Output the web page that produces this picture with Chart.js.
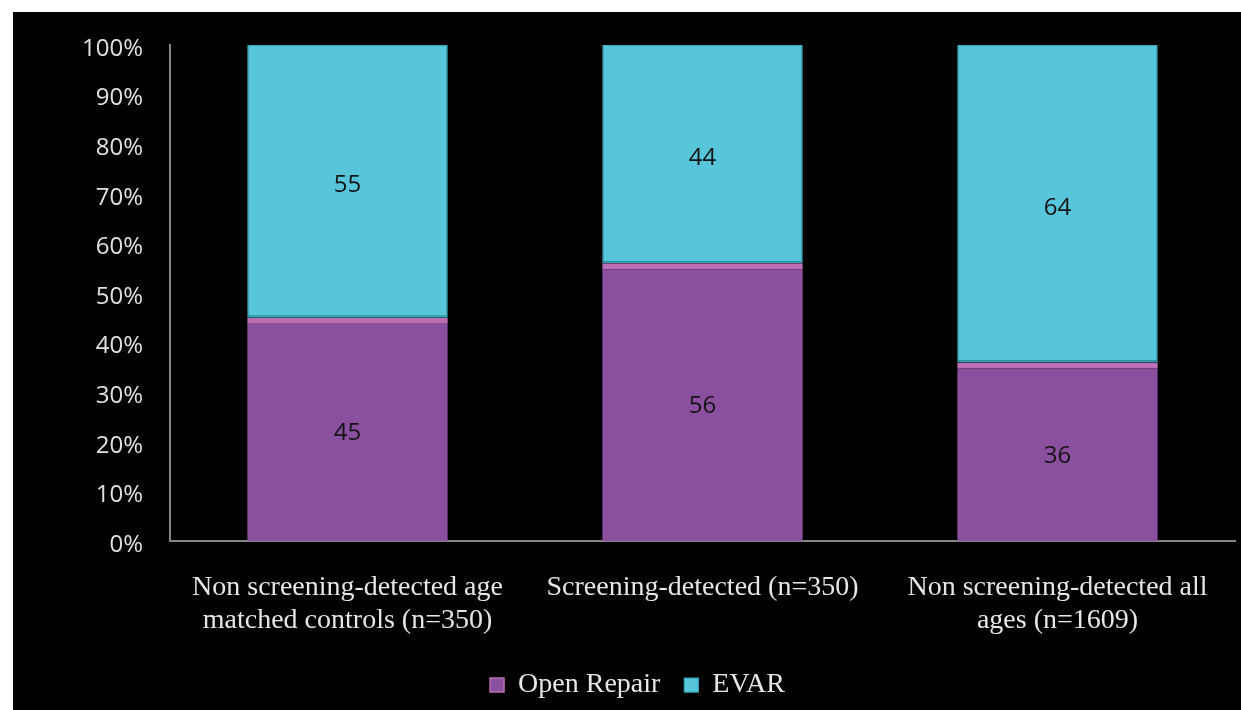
<!DOCTYPE html>
<html>
<head>
<meta charset="utf-8">
<script src="https://cdn.jsdelivr.net/npm/chart.js@4/dist/chart.umd.min.js"></script>
<style>
  html, body { margin: 0; padding: 0; background: #ffffff; width: 1241px; height: 710px; overflow: hidden; }
  #wrap { position: absolute; left: 13px; top: 12px; width: 1228px; height: 698px; background: #000000; }
  canvas { display: block; }
</style>
</head>
<body>
<div id="wrap"><canvas id="c" width="1228" height="698"></canvas></div>
<script>
const categories = [
  ["Non screening-detected age", "matched controls (n=350)"],
  "Screening-detected (n=350)",
  ["Non screening-detected all", "ages (n=1609)"]
];
const seriesNames = ["Open Repair", "EVAR"];
const openRepair = [45, 56, 36];
const evar = [55, 44, 64];
const yTicks = [0, 10, 20, 30, 40, 50, 60, 70, 80, 90, 100];

const valueLabels = {
  id: 'valueLabels',
  afterDatasetsDraw(chart) {
    const ctx = chart.ctx;
    ctx.save();
    ctx.font = '24px "Open Sans"';
    ctx.fillStyle = '#141414';
    ctx.textAlign = 'center';
    ctx.textBaseline = 'middle';
    chart.data.datasets.forEach((ds, i) => {
      const meta = chart.getDatasetMeta(i);
      meta.data.forEach((el, j) => {
        const y = (el.y + el.base) / 2 + 4;
        ctx.fillText(String(ds.data[j]), el.x, y);
      });
    });
    ctx.restore();
  }
};

new Chart(document.getElementById('c'), {
  type: 'bar',
  data: {
    labels: categories,
    datasets: [
      {
        label: seriesNames[0],
        data: openRepair,
        backgroundColor: '#8B4FA0',
        borderColor: '#BA6FB4',
        borderWidth: { top: 6, left: 0, right: 0, bottom: 0 },
        borderSkipped: false,
        barPercentage: 0.565,
        categoryPercentage: 1.0
      },
      {
        label: seriesNames[1],
        data: evar,
        backgroundColor: '#57C6DB',
        borderColor: '#2FA6B9',
        borderWidth: { top: 1, left: 1, right: 1, bottom: 2 },
        borderSkipped: false,
        barPercentage: 0.565,
        categoryPercentage: 1.0
      }
    ]
  },
  options: {
    responsive: false,
    animation: false,
    devicePixelRatio: 1,
    layout: { padding: { left: 27, right: 6, top: 33, bottom: 1 } },
    plugins: {
      tooltip: { enabled: false },
      legend: {
        position: 'bottom',
        labels: {
          color: '#E6E6E6',
          font: { family: '"Liberation Serif"', size: 28 },
          boxWidth: 14,
          boxHeight: 14,
          padding: 10,
          generateLabels(chart) {
            const items = Chart.defaults.plugins.legend.labels.generateLabels(chart);
            items.forEach((it, i) => { if (i < items.length - 1) it.text = it.text + '  '; });
            return items;
          }
        }
      }
    },
    scales: {
      x: {
        stacked: true,
        grid: { display: false, drawTicks: false },
        border: { display: true, color: '#858585', width: 2 },
        ticks: {
          color: '#E6E6E6',
          font: { family: '"Liberation Serif"', size: 28, lineHeight: 1.18 },
          padding: 30,
          maxRotation: 0,
          autoSkip: false
        },
        afterFit(scale) { scale.height = 120; }
      },
      y: {
        stacked: true,
        min: 0,
        max: 100,
        afterBuildTicks(scale) { scale.ticks = yTicks.map(v => ({ value: v })); },
        grid: { display: false, drawTicks: true, tickLength: 27 },
        border: { display: true, color: '#858585', width: 2 },
        ticks: {
          color: '#E0E0E0',
          font: { family: '"Open Sans"', size: 24, lineHeight: '8px' },
          padding: 0,
          callback: v => ['', v + '%']
        },
        afterFit(scale) { scale.width = 130; }
      }
    }
  },
  plugins: [valueLabels]
});
</script>
</body>
</html>
